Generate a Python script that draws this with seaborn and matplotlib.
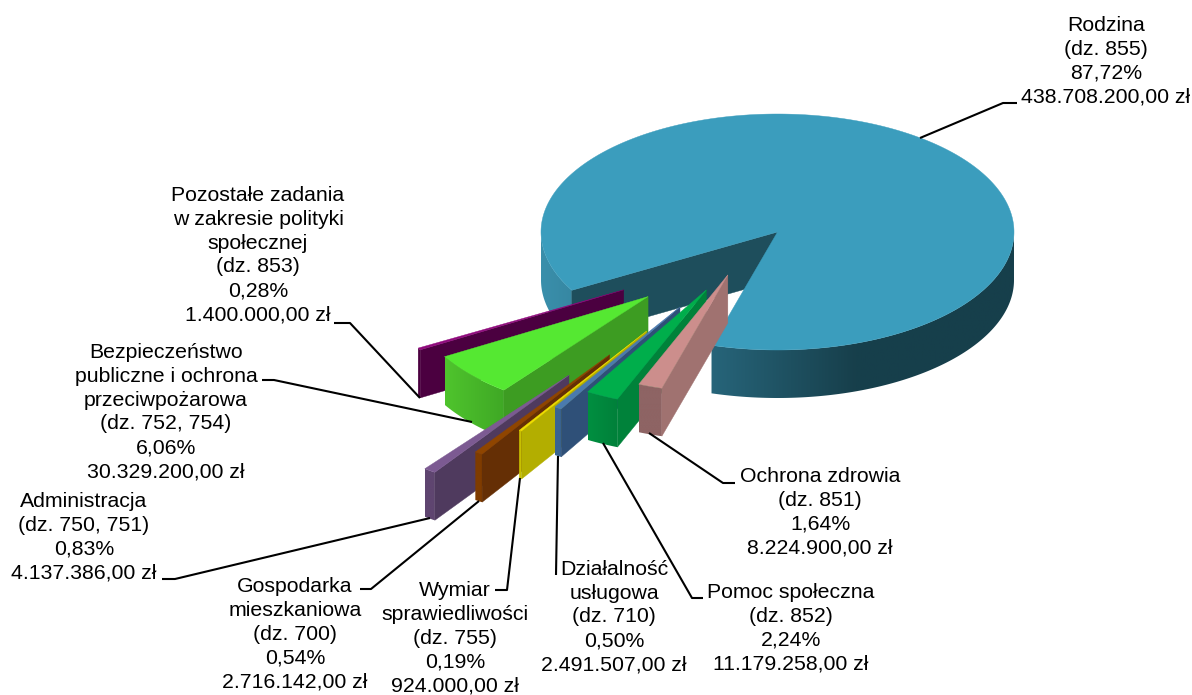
import numpy as np
import seaborn as sns
import matplotlib.pyplot as plt
from matplotlib.colors import LinearSegmentedColormap
from matplotlib.patches import Polygon

sns.set_theme(style="white")
plt.rcParams['font.family'] = ['Liberation Sans', 'DejaVu Sans']

# data, in the order the slices run round the pie
names = ['Rodzina', 'Pozostałe zadania\nw zakresie polityki\nspołecznej',
         'Bezpieczeństwo\npubliczne i ochrona\nprzeciwpożarowa',
         'Administracja', 'Gospodarka\nmieszkaniowa', 'Wymiar\nsprawiedliwości',
         'Działalność\nusługowa', 'Pomoc społeczna', 'Ochrona zdrowia']
divisions = ['855', '853', '752, 754', '750, 751', '700', '755', '710', '852', '851']
percents = [87.72, 0.28, 6.06, 0.83, 0.54, 0.19, 0.50, 2.24, 1.64]
amounts = [438708200, 1400000, 30329200, 4137386, 2716142, 924000, 2491507,
           11179258, 8224900]

# how far each slice is pulled out, and in which direction (degrees)
explode = [0, 0.814, 0.774, 1.50, 1.26, 1.005, 0.757, 0.575, 0.42]
explode_dir = [0, 217, 225, 234, 235.7, 236.6, 237, 238.5, 240]

top_colors = ['#3b9dbd', '#8f0a7c', '#55e832', '#7c5a92', '#8f4500', '#f0e000',
              '#4a7aae', '#00ae4b', '#cc8e8c']
face_colors = ['#1e4e5c', '#4b0040', '#3d9c22', '#4f3a5e', '#652f05', '#b3ae00',
               '#2f5078', '#00823a', '#a07270']
side_colors = [['#3a8fab', '#28687e', '#173f4b', '#163f4b'],
               ['#4b0040', '#4b0040'], ['#4fc42d', '#3fa825'],
               ['#5f4570', '#5f4570'], ['#7f3c00', '#7f3c00'],
               ['#c8c000', '#c8c000'], ['#3a6490', '#3a6490'],
               ['#008f40', '#00803a'], ['#8e6464', '#8e6464']]

# label centres and leader lines
label_pos = [(1106, 61), (258, 255), (166, 412), (84, 537), (295, 634), (455, 638),
             (614, 617), (791, 628), (820, 512)]
leaders = [[(920, 138), (1003, 103), (1017, 103)],
           [(334, 323), (350, 323), (420, 398)],
           [(262, 380), (274, 380), (472, 422)],
           [(162, 579), (175, 579), (430, 518)],
           [(360, 589), (371, 589), (479, 501)],
           [(495, 590), (507, 590), (520, 478)],
           [(558, 456), (556, 575)],
           [(603, 443), (692, 598), (703, 598)],
           [(649, 433), (723, 483), (735, 483)]]

cx, cy = 777.5, 232
rx, ry = 236.5, 118
depth = 48
start_angle = 253.8


def project(angle, r, off):
    a = np.radians(angle)
    return cx + rx * (r * np.cos(a) + off[0]), cy - ry * (r * np.sin(a) + off[1])


def draw_slice(ax, a1, a2, off, top, face, side, z):
    apex = project(0, 0, off)
    arc = np.linspace(a1, a2, max(int((a2 - a1) * 2), 12))
    rim = [project(a, 1, off) for a in arc]
    xs = [p[0] for p in rim]
    ys = [p[1] for p in rim]
    cmap = LinearSegmentedColormap.from_list('side', side)
    grad = np.linspace(0, 1, 256).reshape(1, -1)
    extent = (min(xs), max(xs), max(ys) + depth, min(ys))
    # only the near half of the rim is seen, it can come in two pieces
    front = np.sin(np.radians(arc)) <= 0.001
    runs, run = [], []
    for p, seen in zip(rim, front):
        if seen:
            run.append(p)
        elif run:
            runs.append(run)
            run = []
    if run:
        runs.append(run)
    for run in runs:
        lower = [(p[0], p[1] + depth) for p in run[::-1]]
        wall = Polygon(run + lower, closed=True, transform=ax.transData, fc='none', ec='none')
        ax.add_patch(wall)
        im = ax.imshow(grad, extent=extent, aspect='auto', cmap=cmap, zorder=z)
        im.set_clip_path(wall)
    # cut face at the end of the slice
    end = rim[-1]
    ax.add_patch(Polygon([apex, end, (end[0], end[1] + depth), (apex[0], apex[1] + depth)],
                         closed=True, fc=face, ec=face, lw=0.3, zorder=z + 0.1))
    ax.add_patch(Polygon([apex] + rim, closed=True, fc=top, ec=top, lw=0.3, zorder=z + 0.2))


fig, ax = plt.subplots(figsize=(11.92, 6.95), dpi=100)
fig.subplots_adjust(0, 0, 1, 1)
ax.axis('off')

tops = sns.color_palette(top_colors)
faces = sns.color_palette(face_colors)
sweeps = 360 * np.array(amounts) / sum(amounts)
a = start_angle
for i, sweep in enumerate(sweeps):
    d = np.radians(explode_dir[i])
    off = (explode[i] * np.cos(d), explode[i] * np.sin(d))
    draw_slice(ax, a, a + sweep, off, tops[i], faces[i], side_colors[i], 2 + i)
    a += sweep

for i, name in enumerate(names):
    amount = f'{amounts[i]:,d}'.replace(',', '.')
    text = f'{name}\n(dz. {divisions[i]})\n' + f'{percents[i]:.2f}'.replace('.', ',') \
        + f'%\n{amount},00 zł'
    ax.text(label_pos[i][0], label_pos[i][1], text, ha='center', va='center',
            fontsize=15.3, color='black', linespacing=1.33, zorder=20)
    line = np.array(leaders[i])
    ax.plot(line[:, 0], line[:, 1], color='black', lw=1.5, zorder=19,
            solid_capstyle='butt')

ax.set_xlim(0, 1192)
ax.set_ylim(695, 0)
fig.savefig('out.png', dpi=100)
